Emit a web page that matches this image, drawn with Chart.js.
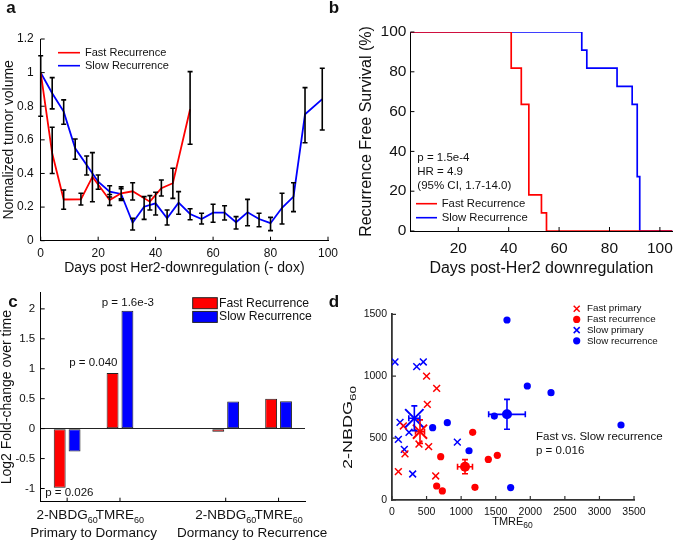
<!DOCTYPE html>
<html>
<head>
<meta charset="utf-8">
<script src="https://cdn.jsdelivr.net/npm/chart.js@4.4.1/dist/chart.umd.min.js"></script>
<style>
  html, body { margin: 0; padding: 0; background: #fff; }
  body { width: 675px; height: 546px; position: relative; overflow: hidden; }
  canvas { position: absolute; }
</style>
</head>
<body>
<script>
// Recurrence figure - four panels, one chart each
const FONT = '"Liberation Sans", Arial, Helvetica, sans-serif';
const RED = '#ff0000';
const BLUE = '#0000ff';
const INK = '#111';

const seriesNames = ['Fast Recurrence', 'Slow Recurrence'];

// Panel a - tumor volume
const xTicksA = [0, 20, 40, 60, 80, 100];
const yTicksA = [0, 0.2, 0.4, 0.6, 0.8, 1, 1.2];
const fastDays = [0, 4, 8, 14, 18, 24, 28, 32, 38, 42, 46, 52];
const fastVol = [1.0, 0.52, 0.245, 0.246, 0.38, 0.242, 0.282, 0.294, 0.232, 0.312, 0.342, 0.782];
const fastLo = [0.74, 0.40, 0.187, 0.212, 0.232, 0.21, 0.25, 0.242, 0.183, 0.266, 0.252, 0.574];
const fastHi = [1.10, 0.675, 0.302, 0.282, 0.524, 0.275, 0.31, 0.345, 0.268, 0.361, 0.431, 1.006];
const slowDays = [0, 4, 8, 12, 16, 20, 24, 28, 32, 36, 40, 44, 48, 52, 56, 60, 64, 68, 72, 76, 80, 84, 88, 92, 98];
const slowVol = [1.0, 0.877, 0.768, 0.55, 0.45, 0.351, 0.292, 0.278, 0.107, 0.202, 0.222, 0.133, 0.226, 0.159, 0.129, 0.167, 0.167, 0.11, 0.169, 0.129, 0.104, 0.196, 0.262, 0.752, 0.842];
const slowLo = [1.0, 0.784, 0.693, 0.485, 0.391, 0.306, 0.26, 0.24, 0.064, 0.127, 0.153, 0.093, 0.157, 0.125, 0.099, 0.11, 0.123, 0.07, 0.089, 0.083, 0.06, 0.099, 0.173, 0.583, 0.659];
const slowHi = [1.0, 0.97, 0.838, 0.605, 0.504, 0.391, 0.327, 0.321, 0.133, 0.262, 0.288, 0.183, 0.292, 0.19, 0.163, 0.217, 0.208, 0.143, 0.246, 0.163, 0.139, 0.282, 0.345, 0.911, 1.026];

// Panel b - Kaplan-Meier
const xTicksB = [20, 40, 60, 80, 100];
const yTicksB = [0, 20, 40, 60, 80, 100];
const fastKmDays = [1, 41, 45, 48, 53, 55, 105];
const fastKmSurv = [100, 81.8, 63.6, 18.2, 9.1, 0, 0];
const slowKmDays = [1, 69, 71, 83, 89, 91, 92, 105];
const slowKmSurv = [100, 90.9, 81.8, 72.7, 63.6, 27.3, 0, 0];
const statsB = ['p = 1.5e-4', 'HR = 4.9', '(95% CI, 1.7-14.0)'];

// Panel c - fold change
const catNames = ['2-NBDG', 'TMRE', '', '2-NBDG', 'TMRE'];
const catSub = '60';
const groupNames = ['Primary to Dormancy', 'Dormancy to Recurrence'];
const fastFold = [-0.985, 0.93, 0, -0.05, 0.498];
const slowFold = [-0.38, 1.968, 0, 0.453, 0.458];
const yTicksC = [-1, -0.5, 0, 0.5, 1, 1.5, 2];
const pNotesC = ['p = 1.6e-3', 'p = 0.040', 'p = 0.026'];

// Panel d - scatter
const xTicksD = [0, 500, 1000, 1500, 2000, 2500, 3000, 3500];
const yTicksD = [0, 500, 1000, 1500];
const groupsD = ['Fast primary', 'Fast recurrence', 'Slow primary', 'Slow recurrence'];
const fastPrimTmre = [500, 646, 511, 164, 188, 92, 390, 530, 632];
const fastPrimNbdg = [1000, 902, 773, 598, 372, 229, 452, 431, 194];
const fastRecTmre = [704, 646, 728, 1167, 1393, 1523, 1200];
const fastRecNbdg = [350, 113, 73, 547, 328, 361, 102];
const slowPrimTmre = [43, 357, 453, 116, 92, 178, 299, 246, 945];
const slowPrimNbdg = [1115, 1077, 1115, 627, 490, 409, 210, 547, 468];
const slowRecTmre = [588, 800, 1114, 1480, 1663, 1716, 1957, 2300, 3312];
const slowRecNbdg = [584, 625, 398, 678, 1454, 100, 921, 867, 606];
const meanTmre = [405, 1056, 323, 1663];
const meanNbdg = [552, 269, 660, 692];
const semTmre = [65, 108, 80, 265];
const semNbdg = [95, 57, 100, 121];

Chart.defaults.font.family = FONT;
Chart.defaults.color = INK;

const pts = (xs, ys) => xs.map((x, i) => ({ x, y: ys[i] }));

function zeroPad(s) { s.paddingLeft = 0; s.paddingRight = 0; s.paddingTop = 0; s.paddingBottom = 0; }

// fixed chart area in page coordinates
function frame(box) {
  return {
    padding: { left: 0, top: box.t - box.cy, right: box.cx + box.W - box.r, bottom: 0 },
    fitX: s => { s.height = box.cy + box.H - box.b; zeroPad(s); },
    fitY: s => { s.width = box.l - box.cx; zeroPad(s); }
  };
}

function makeCanvas(box) {
  const c = document.createElement('canvas');
  c.width = box.W; c.height = box.H;
  c.style.left = box.cx + 'px'; c.style.top = box.cy + 'px';
  c.style.width = box.W + 'px'; c.style.height = box.H + 'px';
  document.body.appendChild(c);
  return c;
}

function overlay(box, draw) {
  return {
    id: 'overlay',
    afterDraw(chart) {
      const ctx = chart.ctx;
      ctx.save();
      ctx.translate(-box.cx, -box.cy);
      draw(ctx, chart);
      ctx.restore();
    }
  };
}

function inwardTicks(len, color, width) {
  return {
    id: 'inwardTicks',
    afterDraw(chart) {
      const { ctx, chartArea: a } = chart;
      ctx.save();
      ctx.strokeStyle = color; ctx.lineWidth = width;
      ctx.beginPath();
      Object.values(chart.scales).forEach(s => {
        s.ticks.forEach((t, i) => {
          if (s.type === 'category' && !chart.data.labels[t.value]) return;
          const p = s.getPixelForTick(i);
          if (s.isHorizontal()) { ctx.moveTo(p, a.bottom); ctx.lineTo(p, a.bottom - len); }
          else { ctx.moveTo(a.left, p); ctx.lineTo(a.left + len, p); }
        });
      });
      ctx.stroke();
      ctx.restore();
    }
  };
}

function setTicks(list) { return s => { s.ticks = list.map(v => ({ value: v })); }; }

function text(ctx, str, x, y, size, align, bold) {
  ctx.font = (bold ? 'bold ' : '') + size + 'px ' + FONT;
  ctx.fillStyle = INK;
  ctx.textAlign = align || 'left';
  ctx.textBaseline = 'middle';
  ctx.fillText(str, x, y);
}

function subLabel(ctx, base, sub, cx, cy, size, subSize) {
  ctx.font = size + 'px ' + FONT;
  const wb = ctx.measureText(base).width;
  ctx.font = subSize + 'px ' + FONT;
  const ws = ctx.measureText(sub).width;
  const x0 = cx - (wb + ws) / 2;
  ctx.fillStyle = INK; ctx.textAlign = 'left'; ctx.textBaseline = 'middle';
  ctx.font = size + 'px ' + FONT;
  ctx.fillText(base, x0, cy);
  ctx.font = subSize + 'px ' + FONT;
  ctx.fillText(sub, x0 + wb, cy + size * 0.4);
}

const noPlugins = { legend: { display: false }, tooltip: { enabled: false } };

// ---------------- Panel a ----------------
const boxA = { cx: 0, cy: 0, W: 345, H: 280, l: 40.7, t: 39, r: 328, b: 240.7 };
const fA = frame(boxA);

const errorBars = {
  id: 'errorBars',
  afterDatasetsDraw(chart) {
    const { ctx, scales: { x, y } } = chart;
    ctx.save();
    ctx.strokeStyle = '#000'; ctx.lineWidth = 1.6;
    ctx.beginPath();
    chart.data.datasets.forEach(ds => {
      if (!ds.errLo) return;
      ds.data.forEach((p, i) => {
        const px = x.getPixelForValue(p.x);
        const lo = y.getPixelForValue(ds.errLo[i]);
        const hi = y.getPixelForValue(ds.errHi[i]);
        if (Math.abs(lo - hi) < 0.5) return;
        ctx.moveTo(px, lo); ctx.lineTo(px, hi);
        ctx.moveTo(px - 2.5, lo); ctx.lineTo(px + 2.5, lo);
        ctx.moveTo(px - 2.5, hi); ctx.lineTo(px + 2.5, hi);
      });
    });
    ctx.stroke();
    ctx.restore();
  }
};

new Chart(makeCanvas(boxA), {
  type: 'line',
  data: {
    datasets: [
      { label: seriesNames[0], data: pts(fastDays, fastVol), errLo: fastLo, errHi: fastHi,
        borderColor: RED, borderWidth: 1.8, pointRadius: 0, tension: 0 },
      { label: seriesNames[1], data: pts(slowDays, slowVol), errLo: slowLo, errHi: slowHi,
        borderColor: BLUE, borderWidth: 1.8, pointRadius: 0, tension: 0 }
    ]
  },
  options: {
    responsive: false, animation: false, events: [],
    layout: { padding: fA.padding },
    plugins: noPlugins,
    scales: {
      x: {
        type: 'linear', min: 0, max: 100,
        grid: { display: false, drawTicks: false },
        border: { color: '#000', width: 1 },
        ticks: { padding: 6, font: { size: 12 }, color: INK, autoSkip: false, maxRotation: 0, callback: v => String(v) },
        afterBuildTicks: setTicks(xTicksA),
        afterFit: fA.fitX,
        title: { display: true, text: 'Days post Her2-downregulation (- dox)', font: { size: 14 }, color: INK, padding: { top: 0, bottom: 3.6 } }
      },
      y: {
        min: 0, max: 1.2,
        grid: { display: false, drawTicks: false },
        border: { color: '#000', width: 1 },
        ticks: { padding: 7, font: { size: 12 }, color: INK, autoSkip: false, callback: v => String(v) },
        afterBuildTicks: setTicks(yTicksA),
        afterFit: fA.fitY,
        title: { display: true, text: 'Normalized tumor volume', font: { size: 14 }, color: INK, padding: { top: 1, bottom: 0 } }
      }
    }
  },
  plugins: [errorBars, inwardTicks(4, '#000', 1), overlay(boxA, ctx => {
    text(ctx, 'a', 11, 8, 17, 'center', true);
    [RED, BLUE].forEach((col, i) => {
      const y = 52.7 + i * 13;
      ctx.strokeStyle = col; ctx.lineWidth = 1.6;
      ctx.beginPath(); ctx.moveTo(58, y); ctx.lineTo(80, y); ctx.stroke();
      text(ctx, seriesNames[i], 85, y, 11);
    });
  })]
});

// ---------------- Panel b ----------------
const boxB = { cx: 320, cy: 0, W: 355, H: 280, l: 410.4, t: 32, r: 672.5, b: 231 };
const fB = frame(boxB);

new Chart(makeCanvas(boxB), {
  type: 'line',
  data: {
    datasets: [
      { label: seriesNames[0], data: pts(fastKmDays, fastKmSurv), stepped: true,
        borderColor: RED, borderWidth: 1.7, pointRadius: 0 },
      { label: seriesNames[1], data: pts(slowKmDays, slowKmSurv), stepped: true,
        borderColor: BLUE, borderWidth: 1.7, pointRadius: 0 }
    ]
  },
  options: {
    responsive: false, animation: false, events: [],
    layout: { padding: fB.padding },
    plugins: noPlugins,
    scales: {
      x: {
        type: 'linear', min: 1, max: 105,
        grid: { display: false, drawTicks: false },
        border: { color: '#000', width: 1 },
        ticks: { padding: 8.5, font: { size: 15.5 }, color: INK, autoSkip: false, maxRotation: 0, callback: v => String(v) },
        afterBuildTicks: setTicks(xTicksB),
        afterFit: fB.fitX,
        title: { display: true, text: 'Days post-Her2 downregulation', font: { size: 16 }, color: INK, padding: { top: 0, bottom: 2 } }
      },
      y: {
        min: 0, max: 100,
        grid: { display: false, drawTicks: false },
        border: { color: '#000', width: 1 },
        ticks: { padding: 4, font: { size: 15.5 }, color: INK, autoSkip: false, callback: v => String(v) },
        afterBuildTicks: setTicks(yTicksB),
        afterFit: fB.fitY,
        title: { display: true, text: 'Recurrence Free Survival (%)', font: { size: 16 }, color: INK, padding: { top: 37, bottom: 0 } }
      }
    }
  },
  plugins: [inwardTicks(4, '#000', 1), overlay(boxB, ctx => {
    text(ctx, 'b', 334, 8, 17, 'center', true);
    statsB.forEach((s, i) => text(ctx, s, 417.3, 157.7 + i * 14, 11.5));
    [RED, BLUE].forEach((col, i) => {
      const y = 203.7 + i * 14;
      ctx.strokeStyle = col; ctx.lineWidth = 1.6;
      ctx.beginPath(); ctx.moveTo(416, y); ctx.lineTo(437, y); ctx.stroke();
      text(ctx, seriesNames[i], 441.7, y, 11.3);
    });
  })]
});

// ---------------- Panel c ----------------
const boxC = { cx: 0, cy: 280, W: 330, H: 266, l: 40.7, t: 292.7, r: 305, b: 501.7 };
const fC = frame(boxC);

new Chart(makeCanvas(boxC), {
  type: 'bar',
  data: {
    labels: catNames,
    datasets: [
      { label: seriesNames[0], data: fastFold, backgroundColor: RED, borderColor: '#222', borderWidth: 1,
        borderSkipped: false, categoryPercentage: 0.5625, barPercentage: 0.8 },
      { label: seriesNames[1], data: slowFold, backgroundColor: BLUE, borderColor: '#222', borderWidth: 1,
        borderSkipped: false, categoryPercentage: 0.5625, barPercentage: 0.8 }
    ]
  },
  options: {
    responsive: false, animation: false, events: [],
    layout: { padding: fC.padding },
    plugins: noPlugins,
    scales: {
      x: {
        grid: { display: false, drawTicks: false },
        border: { color: '#000', width: 1 },
        ticks: { display: false },
        afterFit: fC.fitX
      },
      y: {
        min: -1.22, max: 2.27,
        grid: { display: true, drawTicks: false, lineWidth: 1,
          color: c => (c.tick && c.tick.value === 0) ? '#222' : 'rgba(0,0,0,0)' },
        border: { color: '#000', width: 1 },
        ticks: { padding: 5.5, font: { size: 11.5 }, color: INK, autoSkip: false, callback: v => String(v) },
        afterBuildTicks: setTicks(yTicksC),
        afterFit: fC.fitY,
        title: { display: true, text: 'Log2 Fold-change over time', font: { size: 14, lineHeight: 1 }, color: INK, padding: { top: 0, bottom: 0 } }
      }
    }
  },
  plugins: [inwardTicks(4, '#000', 1), overlay(boxC, (ctx, chart) => {
    const xs = chart.scales.x;
    text(ctx, 'c', 13, 302, 17, 'center', true);
    catNames.forEach((name, i) => {
      if (name) subLabel(ctx, name, catSub, xs.getPixelForValue(i), 515, 13.5, 9);
    });
    text(ctx, groupNames[0], (xs.getPixelForValue(0) + xs.getPixelForValue(1)) / 2, 533.3, 13.5, 'center');
    text(ctx, groupNames[1], (xs.getPixelForValue(3) + xs.getPixelForValue(4)) / 2, 533.3, 13.5, 'center');
    text(ctx, pNotesC[0], 127.8, 303.3, 11.5, 'center');
    text(ctx, pNotesC[1], 93.3, 363.3, 11.5, 'center');
    text(ctx, pNotesC[2], 69.3, 493.3, 11.5, 'center');
    [RED, BLUE].forEach((col, i) => {
      const y = 297.7 + i * 13.7;
      ctx.fillStyle = col; ctx.fillRect(192.7, y, 24.6, 11);
      ctx.strokeStyle = '#222'; ctx.lineWidth = 1; ctx.strokeRect(192.7, y, 24.6, 11);
      text(ctx, seriesNames[i], 219, y + 5.6, 12.2);
    });
  })]
});

// ---------------- Panel d ----------------
const boxD = { cx: 320, cy: 280, W: 355, H: 266, l: 392, t: 314.3, r: 634, b: 500 };
const fD = frame(boxD);

const meanErrBars = {
  id: 'meanErrBars',
  afterDatasetsDraw(chart) {
    const { ctx, scales: { x, y } } = chart;
    chart.data.datasets.forEach(ds => {
      if (!ds.errX) return;
      ctx.save();
      ctx.strokeStyle = ds.pointBorderColor; ctx.lineWidth = 1.6;
      ctx.beginPath();
      ds.data.forEach((p, i) => {
        const px = x.getPixelForValue(p.x), py = y.getPixelForValue(p.y);
        const x0 = x.getPixelForValue(p.x - ds.errX[i]), x1 = x.getPixelForValue(p.x + ds.errX[i]);
        const y0 = y.getPixelForValue(p.y - ds.errY[i]), y1 = y.getPixelForValue(p.y + ds.errY[i]);
        ctx.moveTo(x0, py); ctx.lineTo(x1, py);
        ctx.moveTo(x0, py - 3); ctx.lineTo(x0, py + 3);
        ctx.moveTo(x1, py - 3); ctx.lineTo(x1, py + 3);
        ctx.moveTo(px, y0); ctx.lineTo(px, y1);
        ctx.moveTo(px - 3, y0); ctx.lineTo(px + 3, y0);
        ctx.moveTo(px - 3, y1); ctx.lineTo(px + 3, y1);
      });
      ctx.stroke();
      ctx.restore();
    });
  }
};

const groupColors = [RED, RED, BLUE, BLUE];
const groupStyles = ['crossRot', 'circle', 'crossRot', 'circle'];
const groupData = [
  pts(fastPrimTmre, fastPrimNbdg), pts(fastRecTmre, fastRecNbdg),
  pts(slowPrimTmre, slowPrimNbdg), pts(slowRecTmre, slowRecNbdg)
];

const dsD = groupsD.map((name, g) => ({
  label: name, data: groupData[g], order: 1,
  pointStyle: groupStyles[g],
  pointRadius: groupStyles[g] === 'circle' ? 3.6 : 4.8,
  pointBorderWidth: groupStyles[g] === 'circle' ? 0 : 1.5,
  pointBorderColor: groupColors[g], pointBackgroundColor: groupColors[g]
}));
groupsD.forEach((name, g) => {
  const big = groupStyles[g] === 'circle';
  dsD.push({
    label: name + ' mean', data: [{ x: meanTmre[g], y: meanNbdg[g] }], order: 0,
    errX: [semTmre[g]], errY: [semNbdg[g]],
    pointStyle: groupStyles[g],
    pointRadius: big ? 5 : (g === 0 ? 10 : 13),
    pointBorderWidth: big ? 0 : 2,
    pointBorderColor: groupColors[g], pointBackgroundColor: groupColors[g]
  });
});

new Chart(makeCanvas(boxD), {
  type: 'scatter',
  data: { datasets: dsD },
  options: {
    responsive: false, animation: false, events: [],
    layout: { padding: fD.padding },
    plugins: noPlugins,
    scales: {
      x: {
        type: 'linear', min: 0, max: 3500,
        grid: { display: false, drawTicks: false },
        border: { color: '#333', width: 1.8 },
        ticks: { padding: 5.5, font: { size: 10.5 }, color: INK, autoSkip: false, maxRotation: 0, callback: v => String(v) },
        afterBuildTicks: setTicks(xTicksD),
        afterFit: fD.fitX
      },
      y: {
        min: 0, max: 1500,
        grid: { display: false, drawTicks: false },
        border: { color: '#333', width: 1.8 },
        ticks: { padding: 5, font: { size: 10.5 }, color: INK, autoSkip: false, callback: v => String(v) },
        afterBuildTicks: setTicks(yTicksD),
        afterFit: fD.fitY
      }
    }
  },
  plugins: [meanErrBars, inwardTicks(4, '#333', 1.2), overlay(boxD, (ctx, chart) => {
    const { x, y } = chart.scales;
    text(ctx, 'd', 334, 302, 17, 'center', true);
    subLabel(ctx, 'TMRE', '60', 512.5, 521.7, 11, 8.5);
    ctx.save();
    ctx.translate(349, 427.5);
    ctx.rotate(-Math.PI / 2);
    ctx.scale(1.5, 1);
    subLabel(ctx, '2-NBDG', '60', 0, 0, 12, 9);
    ctx.restore();
    // fast vs slow recurrence bracket
    ctx.strokeStyle = '#000'; ctx.lineWidth = 1.5;
    ctx.beginPath();
    ctx.moveTo(x.getPixelForValue(2000), y.getPixelForValue(713));
    ctx.lineTo(x.getPixelForValue(2000), y.getPixelForValue(283));
    ctx.stroke();
    text(ctx, 'Fast vs. Slow recurrence', 536, 436.7, 11.5);
    text(ctx, 'p = 0.016', 536, 450.5, 11.5);
    // legend
    groupsD.forEach((name, g) => {
      const ly = 308.7 + g * 10.7, lx = 576.7;
      ctx.fillStyle = groupColors[g]; ctx.strokeStyle = groupColors[g]; ctx.lineWidth = 1.5;
      if (groupStyles[g] === 'circle') {
        ctx.beginPath(); ctx.arc(lx, ly, 3.6, 0, Math.PI * 2); ctx.fill();
      } else {
        ctx.beginPath();
        ctx.moveTo(lx - 3, ly - 3); ctx.lineTo(lx + 3, ly + 3);
        ctx.moveTo(lx + 3, ly - 3); ctx.lineTo(lx - 3, ly + 3);
        ctx.stroke();
      }
      text(ctx, name, 587, ly, 9.8);
    });
  })]
});
</script>
</body>
</html>
